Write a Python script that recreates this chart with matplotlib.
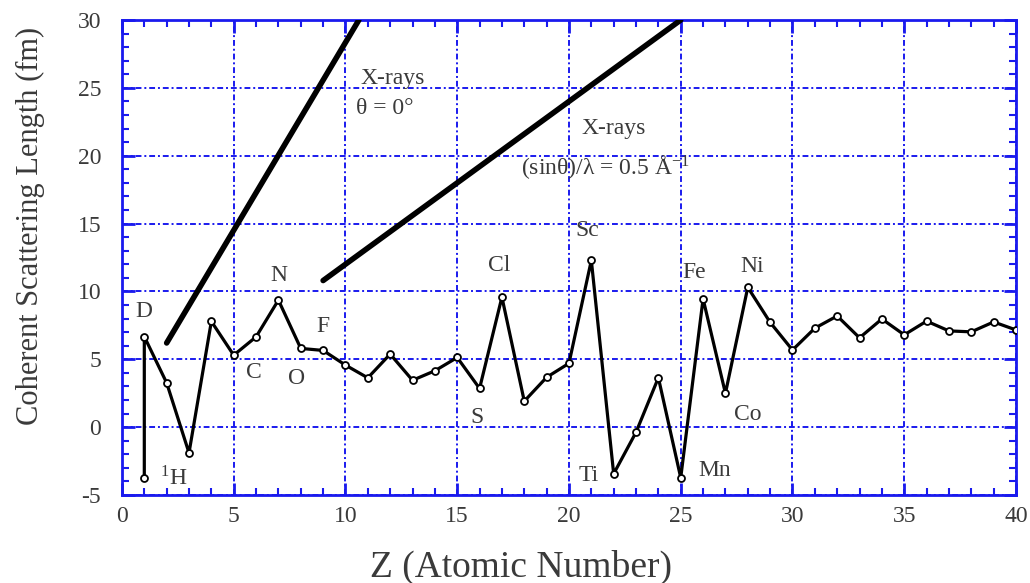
import matplotlib
matplotlib.use("Agg")
import matplotlib.pyplot as plt
from matplotlib.ticker import MultipleLocator

plt.rcParams['font.family'] = ['Liberation Serif', 'DejaVu Serif']
plt.rcParams['mathtext.fontset'] = 'stix'
plt.rcParams['axes.unicode_minus'] = False

# neutron coherent scattering lengths (fm); first point is 1H, second is D
z = [1, 1, 2, 3, 4, 5, 6, 7, 8, 9, 10, 11, 12, 13, 14, 15, 16, 17, 18, 19, 20,
     21, 22, 23, 24, 25, 26, 27, 28, 29, 30, 31, 32, 33, 34, 35, 36, 37, 38, 39, 40]
b = [-3.74, 6.67, 3.26, -1.90, 7.79, 5.30, 6.65, 9.36, 5.80, 5.65, 4.57, 3.63,
     5.38, 3.45, 4.15, 5.13, 2.85, 9.58, 1.91, 3.67, 4.70, 12.29, -3.44, -0.38,
     3.64, -3.73, 9.45, 2.49, 10.30, 7.72, 5.68, 7.29, 8.19, 6.58, 7.97, 6.80,
     7.81, 7.09, 7.02, 7.75, 7.16]

# x-ray form factor lines (start and end points)
xray0_z = [2.0, 10.6]
xray0_b = [6.2, 30.0]
xray05_z = [9.0, 25.0]
xray05_b = [10.8, 30.0]

# element labels
lab_text = ['D', 'C', 'N', 'O', 'F', 'S', 'Cl', 'Sc', 'Ti', 'Mn', 'Fe', 'Co', 'Ni']
lab_x = [1.0, 5.9, 7.0, 7.8, 9.0, 15.9, 16.9, 20.8, 20.9, 26.5, 25.6, 28.0, 28.2]
lab_y = [8.5, 4.0, 11.2, 3.6, 7.4, 0.7, 11.9, 14.5, -3.6, -3.2, 11.4, 0.9, 11.8]

blue = '#1a1aee'
grey = '#3a3a3a'

fig = plt.figure(figsize=(10.3, 5.83), dpi=100)
ax = fig.add_axes([0.1184, 0.151, 0.868, 0.8147])

ax.plot(xray0_z, xray0_b, color='black', lw=4, solid_capstyle='round', zorder=3)
ax.plot(xray05_z, xray05_b, color='black', lw=4, solid_capstyle='round', zorder=3)
ax.plot(z, b, color='black', lw=2.3, marker='o', ms=5, mfc='white', mec='black',
        mew=1.3, zorder=4)

for t, x, y in zip(lab_text, lab_x, lab_y):
    ax.text(x, y, t, fontsize=17, color=grey, ha='center', va='center')
ax.text(1.7, -3.8, r'$^{\mathregular{1}}$H', fontsize=17, color=grey, ha='left', va='center')

ax.text(10.65, 25.7, 'X-rays', fontsize=17, color=grey, ha='left', va='center')
ax.text(10.45, 23.5, 'θ = 0°', fontsize=17, color=grey, ha='left', va='center')
ax.text(20.55, 22.0, 'X-rays', fontsize=17, color=grey, ha='left', va='center')
ax.text(17.85, 19.1, '(sinθ)/λ = 0.5 Å$^{\\mathregular{-1}}$', fontsize=17, color=grey,
        ha='left', va='center')

ax.set_xlim(0, 40)
ax.set_ylim(-5, 30)
ax.xaxis.set_major_locator(MultipleLocator(5))
ax.xaxis.set_minor_locator(MultipleLocator(1))
ax.yaxis.set_major_locator(MultipleLocator(5))
ax.yaxis.set_minor_locator(MultipleLocator(1))

ax.grid(True, which='major', color=blue, ls=(0, (3, 1.5, 1, 1.5)), lw=1.4)
for s in ax.spines.values():
    s.set_color(blue)
    s.set_linewidth(2)
ax.tick_params(which='both', direction='in', top=True, right=True, color=blue,
               labelcolor=grey, labelsize=17)
ax.tick_params(which='major', length=9, width=2)
ax.tick_params(which='minor', length=5, width=1.5)
ax.tick_params(axis='y', which='major', pad=15)
ax.tick_params(axis='x', which='major', pad=8)

ax.set_xlabel('Z (Atomic Number)', fontsize=27, color=grey, va='center')
ax.xaxis.set_label_coords(0.446, -0.152)
ax.set_ylabel('Coherent Scattering Length (fm)', fontsize=22, color=grey)
ax.yaxis.set_label_coords(-0.086, 0.566)

fig.savefig('out.png', dpi=100)
